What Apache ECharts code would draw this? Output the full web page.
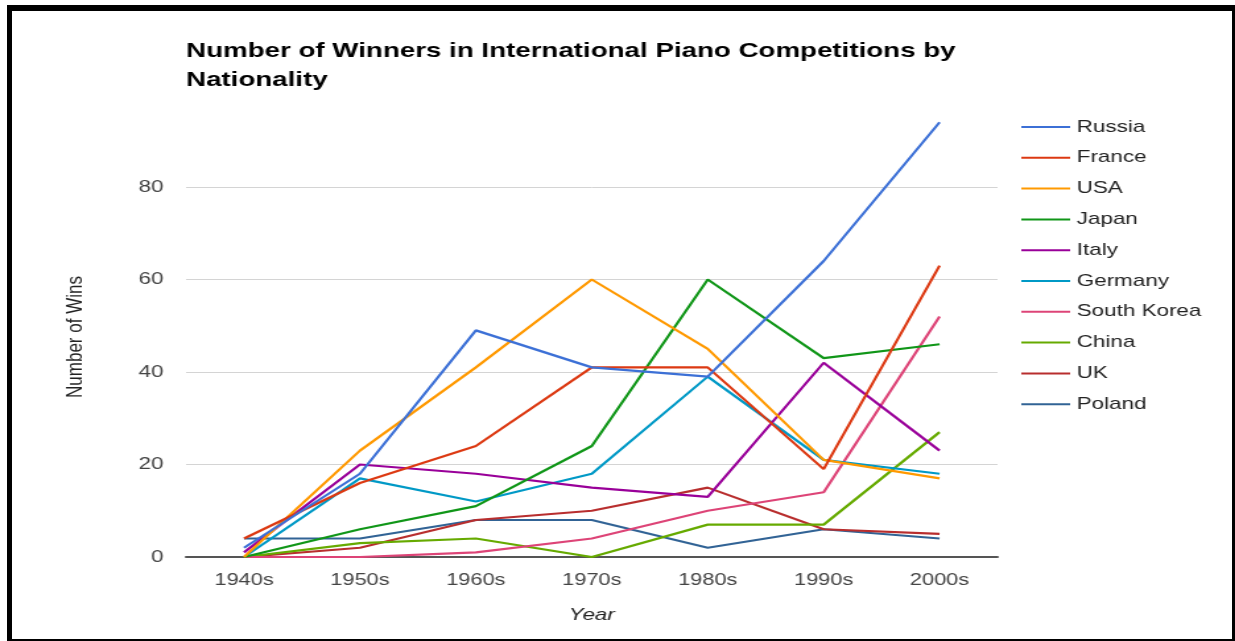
<!DOCTYPE html>
<html>
<head>
<meta charset="utf-8">
<title>Number of Winners in International Piano Competitions by Nationality</title>
<script src="https://cdn.jsdelivr.net/npm/echarts@6/dist/echarts.min.js"></script>
<style>
  html, body { margin: 0; padding: 0; background: #fff; }
  body { width: 1235px; height: 641px; position: relative; overflow: hidden; }
  /* the chart is laid out narrower and widened horizontally */
  #chart { position: absolute; left: 0; top: 0; width: 936px; height: 641px;
           transform: scaleX(1.3195); transform-origin: 0 0; }
  #frame { position: absolute; left: 7px; top: 5px; right: 0; bottom: 0;
           border-style: solid; border-color: #000;
           border-width: 6px 3px 2px 5px; pointer-events: none; }
</style>
</head>
<body>
<div id="chart"></div>
<div id="frame"></div>
<script>
// Decades on the x axis
const decades = ['1940s', '1950s', '1960s', '1970s', '1980s', '1990s', '2000s'];

// Wins per decade, one array per nationality
const russia     = [2, 18, 49, 41, 39, 64, 94];
const france     = [4, 16, 24, 41, 41, 19, 63];
const usa        = [0, 23, 41, 60, 45, 21, 17];
const japan      = [0, 6, 11, 24, 60, 43, 46];
const italy      = [1, 20, 18, 15, 13, 42, 23];
const germany    = [0, 17, 12, 18, 39, 21, 18];
const southKorea = [0, 0, 1, 4, 10, 14, 52];
const china      = [0, 3, 4, 0, 7, 7, 27];
const uk         = [0, 2, 8, 10, 15, 6, 5];
const poland     = [4, 4, 8, 8, 2, 6, 4];

const countries = ['Russia', 'France', 'USA', 'Japan', 'Italy', 'Germany', 'South Korea', 'China', 'UK', 'Poland'];
const values = [russia, france, usa, japan, italy, germany, southKorea, china, uk, poland];
const colors = ['#3c70d6', '#dc3912', '#ff9900', '#109618', '#990099', '#0099c6', '#dd4477', '#66aa00', '#b82e2e', '#316395'];

// Y axis ticks
const yTicks = [0, 20, 40, 60, 80];

const FONT = '"Liberation Sans", Arial, sans-serif';

const chart = echarts.init(document.getElementById('chart'), null, { renderer: 'canvas' });

chart.setOption({
  animation: false,
  color: colors,
  textStyle: { fontFamily: FONT },
  title: {
    text: 'Number of Winners in International Piano Competitions by\nNationality',
    left: 141,
    top: 37,
    padding: 0,
    textStyle: { fontFamily: FONT, fontSize: 21, fontWeight: 'bold', color: '#000', lineHeight: 29 }
  },
  legend: {
    orient: 'vertical',
    left: 774,
    top: 117,
    padding: 0,
    itemWidth: 37,
    itemHeight: 14,
    itemGap: 10.8,
    icon: 'path://M0,6 L37,6 L37,8 L0,8 Z',
    data: countries,
    textStyle: { fontFamily: FONT, fontSize: 17, color: '#222', lineHeight: 20 }
  },
  grid: { left: 141, right: 180, top: 94.5, bottom: 84, containLabel: false },
  xAxis: {
    type: 'category',
    data: decades,
    boundaryGap: true,
    name: 'Year',
    nameLocation: 'middle',
    nameGap: 50,
    nameTextStyle: { fontFamily: FONT, fontSize: 17, fontStyle: 'italic', color: '#222' },
    axisLine: { lineStyle: { color: '#555', width: 2 } },
    axisTick: { show: false },
    axisLabel: { fontFamily: FONT, fontSize: 16.5, color: '#444', margin: 15 }
  },
  yAxis: {
    type: 'value',
    min: 0,
    max: 100,
    interval: 20,
    axisLine: { show: false },
    axisTick: { show: false },
    axisLabel: {
      fontFamily: FONT, fontSize: 17, color: '#444', margin: 17,
      showMaxLabel: false,
      formatter: v => (yTicks.indexOf(v) >= 0 ? String(v) : '')
    },
    splitLine: { showMinLine: false, showMaxLine: false, lineStyle: { color: '#d4d4d4', width: 1 } }
  },
  graphic: [{
    type: 'text',
    x: 57,
    y: 337,
    rotation: Math.PI / 2,
    style: {
      text: 'Number of Wins',
      font: '17px ' + FONT,
      fill: '#222',
      align: 'center',
      verticalAlign: 'middle'
    }
  }],
  series: countries.map((name, i) => ({
    name: name,
    type: 'line',
    data: values[i],
    symbol: 'none',
    lineStyle: { width: 2.2 },
    z: 10 - i
  }))
});
</script>
</body>
</html>
